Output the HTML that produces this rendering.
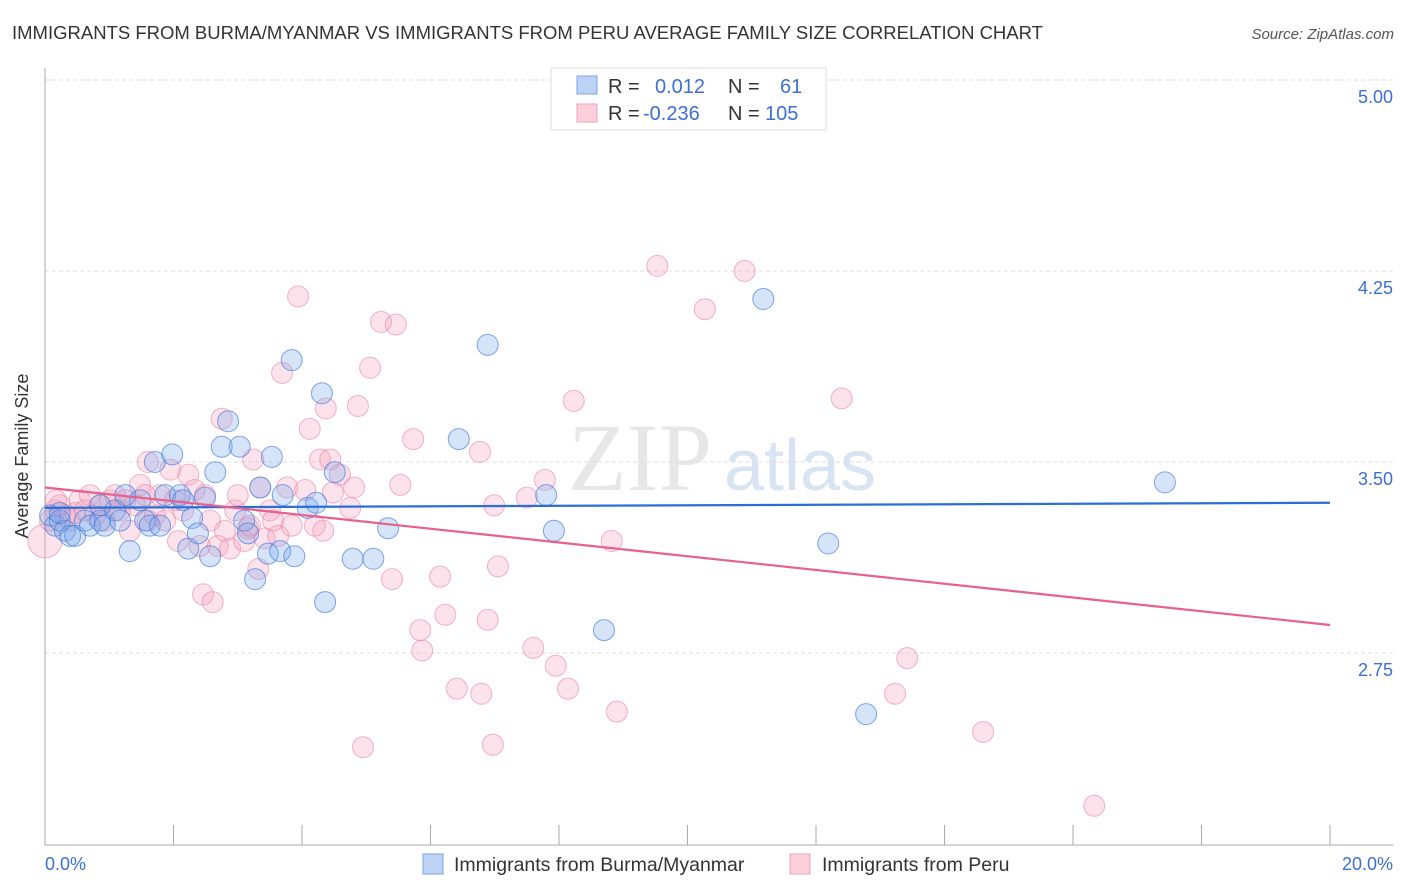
<!DOCTYPE html>
<html><head><meta charset="utf-8"><style>
body{margin:0;background:#fff;font-family:"Liberation Sans",sans-serif}
svg{display:block}
</style></head><body>
<svg id="c" width="1406" height="892">
<text x="12" y="39" font-size="18.5" fill="#333">IMMIGRANTS FROM BURMA/MYANMAR VS IMMIGRANTS FROM PERU AVERAGE FAMILY SIZE CORRELATION CHART</text>
<text x="1394" y="39" font-size="15" fill="#555" font-style="italic" text-anchor="end">Source: ZipAtlas.com</text>
<text x="640" y="490" font-size="96" fill="#ddd" font-family="Liberation Serif" text-anchor="middle" opacity="0.7">ZIP</text>
<text x="800" y="490" font-size="72" fill="#c8d8ee" text-anchor="middle" opacity="0.7">atlas</text>
<g id="grid"></g>
<g id="axes"></g>
<g id="pts"></g>
<g id="trend"></g>
<text transform="translate(28,456) rotate(-90)" font-size="18" fill="#333" text-anchor="middle">Average Family Size</text>
<text x="45" y="870" font-size="18" fill="#3b6fd6">0.0%</text>
<text x="1393" y="870" font-size="18" fill="#3b6fd6" text-anchor="end">20.0%</text>
<g>
<rect x="551" y="68" width="275" height="62" fill="#fff" stroke="#ddd"/>
<rect x="577" y="76" width="20" height="18" fill="#bcd3f5" stroke="#7aa3e6"/>
<rect x="577" y="104" width="20" height="18" fill="#fbcfdc" stroke="#f0a0b8"/>
<text x="608" y="93" font-size="20" fill="#333">R =</text>
<text x="655" y="93" font-size="20" fill="#3b6fd6">0.012</text>
<text x="728" y="93" font-size="20" fill="#333">N =</text>
<text x="780" y="93" font-size="20" fill="#3b6fd6">61</text>
<text x="608" y="120" font-size="20" fill="#333">R =</text>
<text x="643" y="120" font-size="20" fill="#3b6fd6">-0.236</text>
<text x="728" y="120" font-size="20" fill="#333">N =</text>
<text x="765" y="120" font-size="20" fill="#3b6fd6">105</text>
</g>
<g>
<rect x="423" y="854" width="20" height="20" fill="#bcd3f5" stroke="#7aa3e6"/>
<text x="454" y="871" font-size="19.5" fill="#333">Immigrants from Burma/Myanmar</text>
<rect x="790" y="854" width="20" height="20" fill="#fbcfdc" stroke="#f0a0b8"/>
<text x="822" y="871" font-size="19.5" fill="#333">Immigrants from Peru</text>
</g>
</svg>
<script>
const yTicks=[5.00,4.25,3.50,2.75];
const yTickLabels=["5.00","4.25","3.50","2.75"];
const xTicks=[0,2,4,6,8,10,12,14,16,18,20];
const blueX=[.08,.16,.23,.31,.39,.47,.62,.70,.86,.93,1.09,1.17,1.25,1.32,1.48,1.56,1.63,1.71,1.79,1.87,1.98,2.10,2.15,2.23,2.29,2.38,2.49,2.57,2.65,2.75,2.85,3.03,3.10,3.16,3.27,3.35,3.47,3.53,3.66,3.70,3.84,3.88,4.09,4.22,4.31,4.36,4.51,4.79,5.11,5.34,6.44,6.89,7.80,7.92,8.70,11.18,12.19,12.78,17.43,.23,.86];
const blueY=[3.29,3.25,3.27,3.23,3.21,3.21,3.27,3.25,3.27,3.25,3.31,3.27,3.37,3.15,3.35,3.27,3.25,3.50,3.25,3.37,3.53,3.37,3.35,3.16,3.28,3.22,3.36,3.13,3.46,3.56,3.66,3.56,3.27,3.22,3.04,3.40,3.14,3.52,3.15,3.37,3.90,3.13,3.32,3.34,3.77,2.95,3.46,3.12,3.12,3.24,3.59,3.96,3.37,3.23,2.84,4.14,3.18,2.51,3.42,3.30,3.33];
const pinkX=[0,.08,.16,.23,.31,.39,.47,.54,.62,.70,.78,.86,.93,1.01,1.09,1.17,1.25,1.32,1.40,1.48,1.56,1.60,1.71,1.79,1.87,1.95,2.02,2.07,2.15,2.23,2.33,2.41,2.49,2.46,2.57,2.61,2.69,2.75,2.80,2.88,2.96,3.00,3.10,3.16,3.19,3.24,3.32,3.35,3.42,3.50,3.55,3.63,3.69,3.77,3.84,3.94,4.05,4.12,4.20,4.28,4.33,4.37,4.44,4.48,4.59,4.75,4.81,4.87,4.95,5.06,5.23,5.40,5.46,5.53,5.73,5.84,5.87,6.15,6.23,6.41,6.77,6.79,6.89,6.97,6.99,7.05,7.50,7.60,7.78,7.95,8.14,8.23,8.82,8.90,9.53,10.27,10.89,12.40,13.23,13.42,14.60,16.33,.17,1.60];
const pinkY=[3.19,3.27,3.31,3.33,3.29,3.27,3.30,3.35,3.31,3.37,3.29,3.33,3.27,3.35,3.37,3.31,3.35,3.23,3.33,3.41,3.37,3.50,3.29,3.37,3.27,3.47,3.35,3.19,3.31,3.45,3.39,3.17,3.37,2.98,3.27,2.95,3.17,3.67,3.23,3.16,3.31,3.37,3.19,3.24,3.25,3.51,3.08,3.40,3.20,3.31,3.27,3.21,3.85,3.40,3.25,4.15,3.39,3.63,3.25,3.51,3.23,3.71,3.51,3.38,3.45,3.32,3.40,3.72,2.38,3.87,4.05,3.04,4.04,3.41,3.59,2.84,2.76,3.05,2.90,2.61,3.54,2.59,2.88,2.39,3.33,3.09,3.36,2.77,3.43,2.70,2.61,3.74,3.19,2.52,4.27,4.10,4.25,3.75,2.59,2.73,2.44,2.15,3.35,3.27];
const blueTrend=[3.32,3.34];
const pinkTrend=[3.40,2.86];
const NS="http://www.w3.org/2000/svg";
const X=v=>45+v/20*1285;
const Y=v=>80+(5-v)*254.67;
function mk(p,t,a){const e=document.createElementNS(NS,t);for(const k in a)e.setAttribute(k,a[k]);document.getElementById(p).appendChild(e);return e;}
yTicks.forEach((v,i)=>{
 const l=mk('grid','line',{x1:45,x2:1393,y1:Y(v),y2:Y(v),stroke:'#ddd','stroke-dasharray':'4,3'});
 
 
 const t=mk('grid','text',{x:1393,y:Y(v)+23,'font-size':18,fill:'#3b6fd6','text-anchor':'end'});
 t.textContent=yTickLabels[i];
 
 
});
const ya=mk('axes','line',{x1:45,x2:45,y1:68,y2:845,stroke:'#aaa'});


const xa=mk('axes','line',{x1:45,x2:1393,y1:845,y2:845,stroke:'#aaa'});


xTicks.forEach(v=>{
 const t=mk('axes','line',{x1:X(v),x2:X(v),y1:825,y2:845,stroke:'#aaa'});
 
 
});
pinkX.forEach((v,i)=>{
 const c=mk('pts','circle',{cx:X(v),cy:Y(pinkY[i]),r:i==0?17:10.5,fill:'rgba(244,160,188,0.3)',stroke:'rgba(235,130,165,0.6)','stroke-width':1});
 
 
});
blueX.forEach((v,i)=>{
 const c=mk('pts','circle',{cx:X(v),cy:Y(blueY[i]),r:10.5,fill:'rgba(120,165,235,0.3)',stroke:'rgba(60,120,220,0.65)','stroke-width':1});
 
 
});
const bt=mk('trend','line',{x1:X(0),x2:X(20),y1:Y(blueTrend[0]),y2:Y(blueTrend[1]),stroke:'#2b6fd6','stroke-width':2.2});


const pt=mk('trend','line',{x1:X(0),x2:X(20),y1:Y(pinkTrend[0]),y2:Y(pinkTrend[1]),stroke:'#e8608c','stroke-width':2.2});


</script>
</body></html>
